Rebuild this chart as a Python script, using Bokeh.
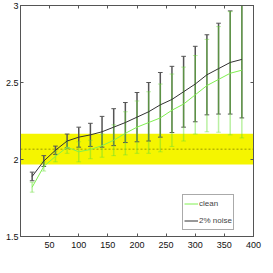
import math
from bokeh.plotting import figure
from bokeh.models import (Label, Legend, LegendItem, BoxAnnotation, Span,
                          LinearAxis, FixedTicker, Range1d, ColumnDataSource,
                          CustomLabelingPolicy)
from bokeh.embed import file_html
from bokeh.resources import INLINE

# ---- data ----
tau = [20, 40, 60, 80, 100, 120, 140, 160, 180, 200, 220, 240, 260, 280, 300, 320, 340, 360, 380]
noise = [1.89, 1.99, 2.06, 2.12, 2.145, 2.16, 2.18, 2.21, 2.24, 2.275, 2.31, 2.355, 2.39, 2.44,
         2.49, 2.55, 2.59, 2.63, 2.65]
noise_err = [0.028, 0.035, 0.027, 0.045, 0.065, 0.075, 0.10, 0.12, 0.13, 0.16, 0.19, 0.21, 0.215,
             0.23, 0.245, 0.26, 0.295, 0.335, 0.38]
clean = [1.82, 1.955, 2.02, 2.08, 2.05, 2.065, 2.09, 2.125, 2.17, 2.21, 2.24, 2.27, 2.32, 2.36,
         2.42, 2.48, 2.52, 2.56, 2.58]
clean_err = [0.032, 0.03, 0.035, 0.04, 0.065, 0.06, 0.075, 0.10, 0.14, 0.17, 0.20, 0.22, 0.235,
             0.24, 0.255, 0.30, 0.343, 0.40, 0.44]
band_lo, band_mid, band_hi = 1.967, 2.067, 2.168
x_ticks = [50, 100, 150, 200, 250, 300, 350, 400]
y_ticks = [1.5, 2, 2.5, 3]
cap = 4  # half cap width in data units

FONT = "Liberation Sans"
AX = "#555555"

p = figure(width=273, height=273, output_backend="svg", toolbar_location=None,
           x_range=Range1d(0, 400), y_range=Range1d(1.5, 3),
           min_border_left=24, min_border_right=9, min_border_top=8, min_border_bottom=33)
p.styles = {"margin": "-4px"}
p.xgrid.visible = False
p.ygrid.visible = False
p.outline_line_color = AX
p.background_fill_color = "white"
p.border_fill_color = "white"

def style_axis(ax, show_labels=True):
    ax.axis_line_color = AX
    ax.major_tick_line_color = AX
    ax.major_tick_in = 3
    ax.major_tick_out = 0
    ax.minor_tick_line_color = None
    ax.major_label_text_font = FONT
    ax.major_label_text_font_size = "9px"
    ax.major_label_text_color = "#111111"
    ax.major_label_standoff = 3
    if not show_labels:
        ax.major_label_policy = CustomLabelingPolicy(
            code="for (const i of indices) indices.unset(i)")
        ax.major_label_standoff = 0

p.xaxis.ticker = FixedTicker(ticks=x_ticks)
p.yaxis.ticker = FixedTicker(ticks=y_ticks)
p.yaxis.major_label_overrides = {2: "2", 3: "3"}
style_axis(p.xaxis[0])
style_axis(p.yaxis[0])
p.yaxis.major_label_standoff = 2
p.xaxis.major_label_standoff = 5

top = LinearAxis(ticker=FixedTicker(ticks=x_ticks))
style_axis(top, False)
p.add_layout(top, "above")
right = LinearAxis(ticker=FixedTicker(ticks=y_ticks))
style_axis(right, False)
p.add_layout(right, "right")

# yellow band and dotted mean line
p.add_layout(BoxAnnotation(bottom=band_lo, top=band_hi, fill_color="#f5f500", fill_alpha=1.0,
                           line_color=None, level="underlay"))
p.add_layout(Span(location=band_mid, dimension="width", line_color="#9a9a00",
                  line_dash="2 2", line_width=1, level="underlay"))

def errbars(y, e, color, alpha, width):
    lo = [a - b for a, b in zip(y, e)]
    hi = [a + b for a, b in zip(y, e)]
    src = ColumnDataSource(dict(x=tau, lo=lo, hi=hi,
                                xl=[t - cap for t in tau], xr=[t + cap for t in tau]))
    p.segment("x", "lo", "x", "hi", source=src, line_color=color, line_alpha=alpha, line_width=width)
    p.segment("xl", "lo", "xr", "lo", source=src, line_color=color, line_alpha=alpha, line_width=1)
    p.segment("xl", "hi", "xr", "hi", source=src, line_color=color, line_alpha=alpha, line_width=1)

errbars(noise, noise_err, "#555555", 1.0, 1.5)
errbars(clean, clean_err, "#66dd33", 0.45, 1.5)

r_clean = p.line(tau, clean, line_color="#80f050", line_width=1)
r_noise = p.line(tau, noise, line_color="#333333", line_width=1)

legend = Legend(items=[LegendItem(label="clean", renderers=[r_clean]),
                       LegendItem(label="2% noise", renderers=[r_noise])],
                location=(162, 6), padding=1, spacing=2, margin=0,
                glyph_width=14, glyph_height=15, label_height=15, label_width=0,
                label_standoff=1,
                label_text_font=FONT, label_text_font_size="8px",
                border_line_color=AX, border_line_width=1, background_fill_alpha=1.0)
p.add_layout(legend, "center")

p.add_layout(Label(x=-28.5, y=2.308, text="correlation dimension", angle=math.pi / 2,
                   text_align="center", text_baseline="middle", text_font=FONT,
                   text_font_size="8.5px", text_color="#111111"))
p.add_layout(Label(x=260.8, y=1.338, text="time window length τ", text_align="right",
                   text_baseline="middle", text_font=FONT, text_font_size="8.5px",
                   text_color="#111111"))
p.add_layout(Label(x=261.7, y=1.319, text="w", text_align="left",
                   text_baseline="middle", text_font=FONT, text_font_size="6px",
                   text_color="#111111"))

open("out.html", "w").write(file_html(p, INLINE))
